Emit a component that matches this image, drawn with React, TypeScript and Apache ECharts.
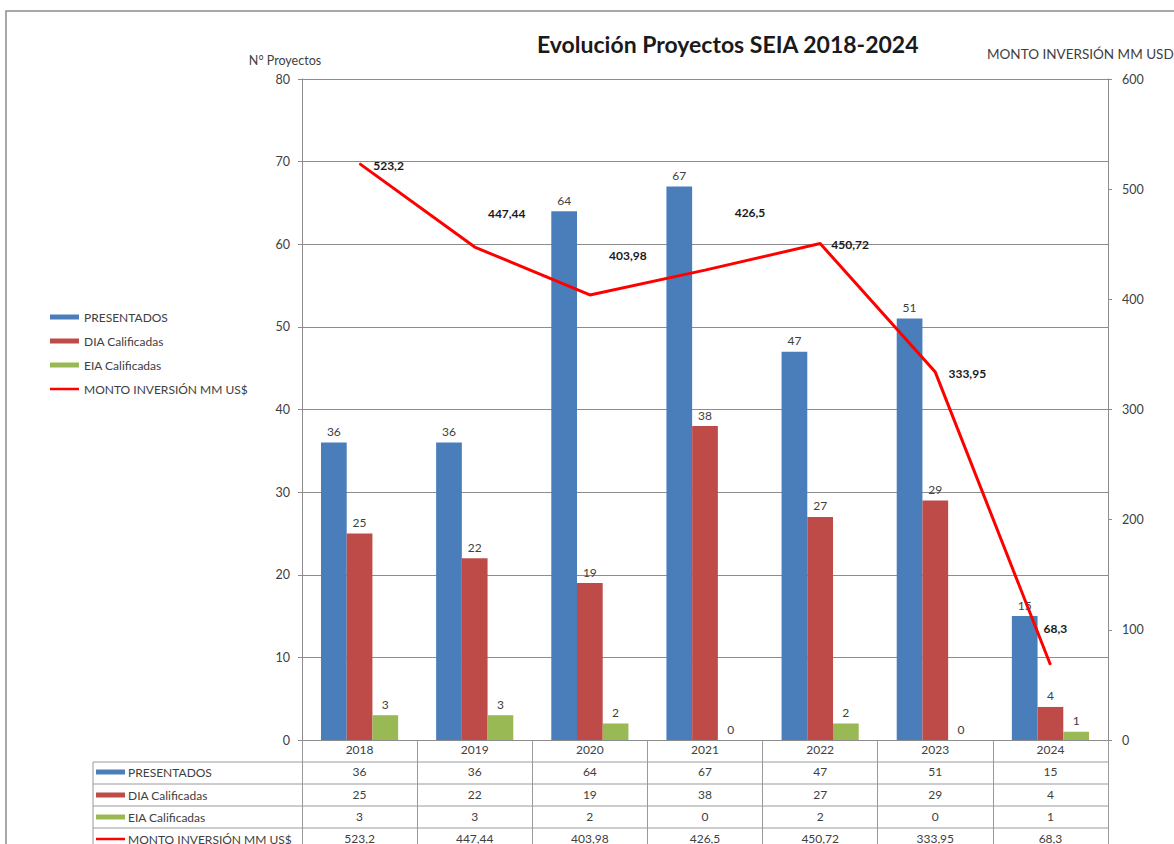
import React, { useEffect, useRef } from "react";
import * as echarts from "echarts";

const years = ["2018", "2019", "2020", "2021", "2022", "2023", "2024"];
const presentados = [36, 36, 64, 67, 47, 51, 15];
const diaCalificadas = [25, 22, 19, 38, 27, 29, 4];
const eiaCalificadas = [3, 3, 2, 0, 2, 0, 1];
const montoInversion = [523.2, 447.44, 403.98, 426.5, 450.72, 333.95, 68.3];

const seriesNames = ["PRESENTADOS", "DIA Calificadas", "EIA Calificadas", "MONTO INVERSIÓN MM US$"];
const colors = ["#4a7ebb", "#be4b48", "#98b954", "#ff0000"];

const FONT = "Lato, 'Liberation Sans', sans-serif";
const TXT = "#404040";
const GRIDC = "#8c8c8c";
const TABLEC = "#9a9a9a";

// pixel offsets of each line label from its point (style only)
const lineLabelOffsets = [
  [29, 2],
  [32, -34],
  [38, -39],
  [45, -58],
  [30, 1],
  [32, 1],
  [5, -36],
];

const fmtComma = (v: number) => String(v).replace(".", ",");

export default function App() {
  const ref = useRef<HTMLDivElement>(null);

  useEffect(() => {
    document.body.style.margin = "0";
    if (!ref.current) return;
    const chart = echarts.init(ref.current, null, { renderer: "svg" });

    const gridLeft = 302;
    const gridRight = 66;
    const gridTop = 79;
    const gridBottom = 104;
    const axisY = 844 - gridBottom;
    const plotRight = 1174 - gridRight;

    const rowValues = [
      presentados.map(String),
      diaCalificadas.map(String),
      eiaCalificadas.map(String),
      montoInversion.map(fmtComma),
    ];
    const rowCenters = [772, 795, 817, 839];
    const rowOffsets = rowCenters.map((c) => c - axisY - 3 - 7);
    const rowLines = [762, 784, 806, 828];

    const tableAxes = rowValues.map((vals, i) => ({
      type: "category",
      gridIndex: 0,
      position: "bottom",
      offset: rowOffsets[i],
      data: vals,
      axisLine: { show: false },
      axisTick: { show: false },
      splitLine: { show: false },
      axisLabel: { interval: 0, margin: 3, color: TXT, fontSize: 12, fontFamily: FONT },
    }));

    const graphics: any[] = [
      {
        type: "rect",
        shape: { x: 6, y: 11, width: 1300, height: 1000 },
        style: { fill: "none", stroke: GRIDC, lineWidth: 1.5 },
        silent: true,
      },
      {
        type: "text",
        x: 285,
        y: 60,
        style: {
          text: "N° Proyectos",
          fill: TXT,
          fontSize: 12.5,
          fontFamily: FONT,
          textAlign: "center",
          textVerticalAlign: "middle",
        },
      },
      {
        type: "text",
        x: 987,
        y: 54,
        style: {
          text: "MONTO INVERSIÓN MM USD",
          fill: TXT,
          fontSize: 13.5,
          fontFamily: FONT,
          textAlign: "left",
          textVerticalAlign: "middle",
        },
      },
      {
        type: "line",
        shape: { x1: 93, y1: rowLines[0], x2: 93, y2: 850 },
        style: { stroke: TABLEC, lineWidth: 1 },
      },
    ];
    rowLines.forEach((y) => {
      graphics.push({
        type: "line",
        shape: { x1: 93, y1: y, x2: plotRight, y2: y },
        style: { stroke: TABLEC, lineWidth: 1 },
      });
    });
    seriesNames.forEach((name, i) => {
      const c = rowCenters[i];
      const isLine = i === 3;
      graphics.push({
        type: "rect",
        shape: { x: 96, y: isLine ? c - 1.25 : c - 2.5, width: 29, height: isLine ? 2.5 : 5 },
        style: { fill: colors[i] },
      });
      graphics.push({
        type: "text",
        x: 128,
        y: c,
        style: {
          text: name,
          fill: TXT,
          fontSize: 12,
          fontFamily: FONT,
          textAlign: "left",
          textVerticalAlign: "middle",
        },
      });
    });

    const barLabel = {
      show: true,
      position: "top",
      distance: 5,
      color: TXT,
      fontSize: 12,
      fontFamily: FONT,
    };

    const option: any = {
      animation: false,
      title: {
        text: "Evolución Proyectos SEIA 2018-2024",
        left: 532,
        top: 27,
        textStyle: { fontSize: 23, fontWeight: "bold", color: "#1a1a1a", fontFamily: FONT },
      },
      legend: {
        orient: "vertical",
        left: 45,
        top: 305,
        itemWidth: 29,
        itemHeight: 5,
        itemGap: 10,
        textStyle: { fontSize: 12, color: TXT, fontFamily: FONT, lineHeight: 14 },
        data: seriesNames.map((n, i) =>
          i < 3 ? { name: n, icon: "rect" } : { name: n, icon: "path://M0 0H29V2.5H0Z" }
        ),
      },
      grid: { left: gridLeft, right: gridRight, top: gridTop, bottom: gridBottom },
      xAxis: [
        {
          type: "category",
          gridIndex: 0,
          position: "bottom",
          data: years,
          axisLine: { lineStyle: { color: GRIDC, width: 1 } },
          axisTick: { show: true, length: 110, lineStyle: { color: TABLEC } },
          axisLabel: { margin: 3, color: TXT, fontSize: 12, fontFamily: FONT },
          splitLine: { show: false },
        },
        ...tableAxes,
      ],
      yAxis: [
        {
          type: "value",
          min: 0,
          max: 80,
          interval: 10,
          position: "left",
          axisLine: { show: true, onZero: false, lineStyle: { color: GRIDC } },
          axisTick: { show: true, length: 4, lineStyle: { color: GRIDC } },
          splitLine: { show: true, lineStyle: { color: GRIDC, width: 1 } },
          axisLabel: { margin: 12, color: TXT, fontSize: 12.5, fontFamily: FONT },
        },
        {
          type: "value",
          min: 0,
          max: 600,
          interval: 100,
          position: "right",
          axisLine: { show: true, onZero: false, lineStyle: { color: GRIDC } },
          axisTick: { show: true, length: 4, lineStyle: { color: GRIDC } },
          splitLine: { show: false },
          axisLabel: { margin: 14, color: TXT, fontSize: 12.5, fontFamily: FONT },
        },
      ],
      series: [
        {
          name: seriesNames[0],
          type: "bar",
          xAxisIndex: 0,
          yAxisIndex: 0,
          data: presentados,
          itemStyle: { color: colors[0] },
          barGap: "0%",
          barCategoryGap: "33%",
          label: barLabel,
        },
        {
          name: seriesNames[1],
          type: "bar",
          xAxisIndex: 0,
          yAxisIndex: 0,
          data: diaCalificadas,
          itemStyle: { color: colors[1] },
          barGap: "0%",
          barCategoryGap: "33%",
          label: barLabel,
        },
        {
          name: seriesNames[2],
          type: "bar",
          xAxisIndex: 0,
          yAxisIndex: 0,
          data: eiaCalificadas,
          itemStyle: { color: colors[2] },
          barGap: "0%",
          barCategoryGap: "33%",
          label: barLabel,
        },
        {
          name: seriesNames[3],
          type: "line",
          xAxisIndex: 0,
          yAxisIndex: 1,
          z: 5,
          data: montoInversion.map((v, i) => ({
            value: v,
            label: { offset: lineLabelOffsets[i] },
          })),
          symbol: "circle",
          symbolSize: 1,
          showSymbol: true,
          itemStyle: { color: colors[3] },
          lineStyle: { color: colors[3], width: 3 },
          label: {
            show: true,
            position: "inside",
            formatter: (p: any) => fmtComma(p.value),
            fontWeight: "bold",
            fontSize: 12,
            color: "#1a1a1a",
            fontFamily: FONT,
          },
        },
      ],
      graphic: graphics,
    };

    chart.setOption(option);
    return () => chart.dispose();
  }, []);

  return <div ref={ref} style={{ width: 1174, height: 844 }} />;
}
